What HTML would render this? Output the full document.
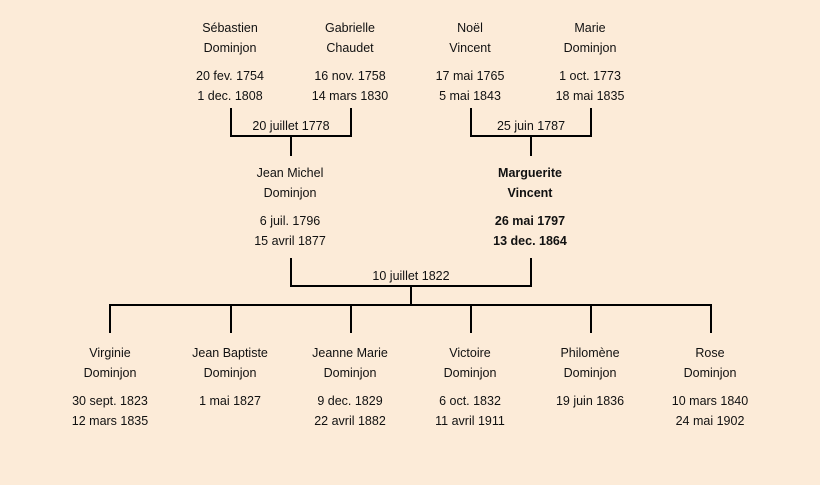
<!DOCTYPE html>
<html><head><meta charset="utf-8"><style>
body{margin:0;width:820px;height:485px;background:#fcebd8;position:relative;overflow:hidden;font-family:"Liberation Sans",sans-serif;font-size:12.5px;color:#111}
.t{position:absolute;width:160px;text-align:center;line-height:20px;white-space:nowrap;margin-top:1px}
.b{font-weight:bold}
svg{position:absolute;left:0;top:0}
</style></head><body>
<svg width="820" height="485"><g stroke="#000" stroke-width="2" fill="none">
<path d="M231 108V136H351V108M291 136V156"/>
<path d="M471 108V136H591V108M531 136V156"/>
<path d="M291 258V286H531V258M411 286V305"/>
<path d="M110 333V305H711V333M231 305V333M351 305V333M471 305V333M591 305V333"/>
</g></svg>
<div class="t" style="left:150px;top:17px">Sébastien<br>Dominjon</div>
<div class="t" style="left:150px;top:65px">20 fev. 1754<br>1 dec. 1808</div>
<div class="t" style="left:270px;top:17px">Gabrielle<br>Chaudet</div>
<div class="t" style="left:270px;top:65px">16 nov. 1758<br>14 mars 1830</div>
<div class="t" style="left:390px;top:17px">Noël<br>Vincent</div>
<div class="t" style="left:390px;top:65px">17 mai 1765<br>5 mai 1843</div>
<div class="t" style="left:510px;top:17px">Marie<br>Dominjon</div>
<div class="t" style="left:510px;top:65px">1 oct. 1773<br>18 mai 1835</div>
<div class="t" style="left:211px;top:115px">20 juillet 1778</div>
<div class="t" style="left:451px;top:115px">25 juin 1787</div>
<div class="t" style="left:210px;top:162px">Jean Michel<br>Dominjon</div>
<div class="t" style="left:210px;top:210px">6 juil. 1796<br>15 avril 1877</div>
<div class="t b" style="left:450px;top:162px">Marguerite<br>Vincent</div>
<div class="t b" style="left:450px;top:210px">26 mai 1797<br>13 dec. 1864</div>
<div class="t" style="left:331px;top:265px">10 juillet 1822</div>
<div class="t" style="left:30px;top:342px">Virginie<br>Dominjon</div>
<div class="t" style="left:30px;top:390px">30 sept. 1823<br>12 mars 1835</div>
<div class="t" style="left:150px;top:342px">Jean Baptiste<br>Dominjon</div>
<div class="t" style="left:150px;top:390px">1 mai 1827</div>
<div class="t" style="left:270px;top:342px">Jeanne Marie<br>Dominjon</div>
<div class="t" style="left:270px;top:390px">9 dec. 1829<br>22 avril 1882</div>
<div class="t" style="left:390px;top:342px">Victoire<br>Dominjon</div>
<div class="t" style="left:390px;top:390px">6 oct. 1832<br>11 avril 1911</div>
<div class="t" style="left:510px;top:342px">Philomène<br>Dominjon</div>
<div class="t" style="left:510px;top:390px">19 juin 1836</div>
<div class="t" style="left:630px;top:342px">Rose<br>Dominjon</div>
<div class="t" style="left:630px;top:390px">10 mars 1840<br>24 mai 1902</div>
</body></html>
